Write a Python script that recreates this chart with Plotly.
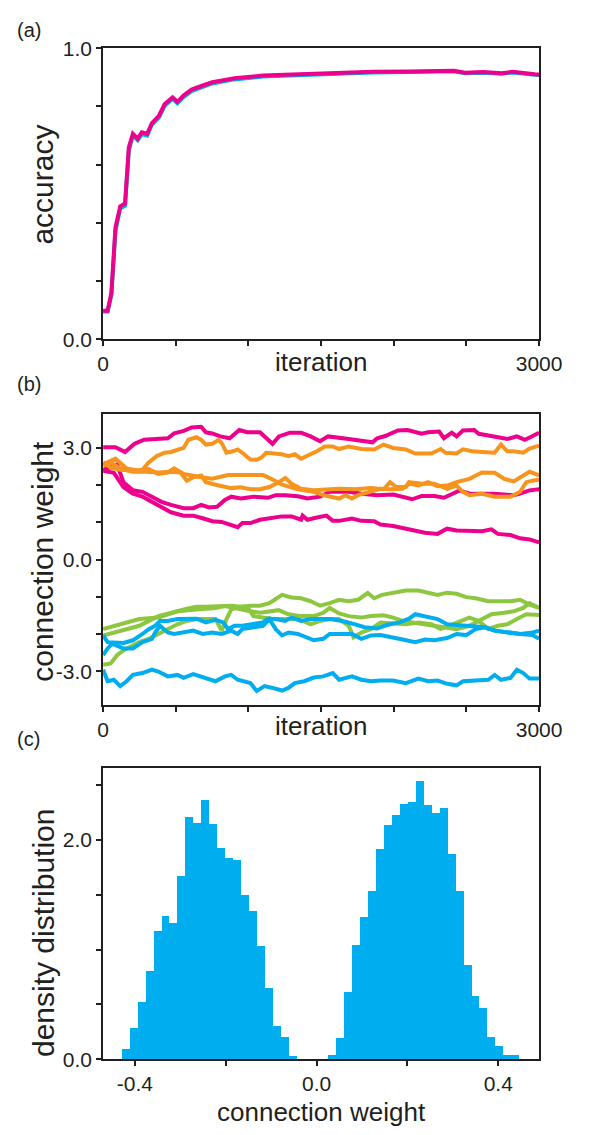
import plotly.graph_objects as go

# ---------------- data: panel (a) accuracy ----------------
acc_iter = [0, 31, 57, 85, 118, 151, 177, 205, 238, 266, 303, 336, 384, 424, 478, 511, 555, 609, 686, 751, 838, 904, 1099, 1478, 1858, 2110, 2414, 2490, 2616, 2742, 2818, 2970, 3000]
acc_magenta = [0.098, 0.098, 0.159, 0.384, 0.457, 0.466, 0.659, 0.706, 0.689, 0.711, 0.706, 0.743, 0.768, 0.808, 0.831, 0.816, 0.838, 0.858, 0.872, 0.883, 0.891, 0.897, 0.906, 0.914, 0.919, 0.920, 0.923, 0.916, 0.918, 0.914, 0.919, 0.911, 0.910]
acc_cyan = [0.095, 0.095, 0.150, 0.372, 0.450, 0.459, 0.648, 0.700, 0.684, 0.705, 0.700, 0.737, 0.762, 0.802, 0.826, 0.811, 0.833, 0.853, 0.867, 0.879, 0.887, 0.893, 0.903, 0.911, 0.917, 0.918, 0.921, 0.914, 0.916, 0.912, 0.917, 0.909, 0.908]

# ---------------- data: panel (b) connection weights ----------------
M1_it = [0, 85, 151, 216, 282, 445, 489, 555, 609, 675, 707, 751, 806, 871, 937, 991, 1079, 1133, 1166, 1210, 1286, 1362, 1428, 1493, 1548, 1690, 1854, 1886, 1941, 2028, 2094, 2192, 2236, 2312, 2345, 2399, 2432, 2476, 2553, 2585, 2673, 2782, 2847, 2902, 2956, 3000]
M1_w = [3.02, 3.02, 2.89, 3.11, 3.22, 3.26, 3.39, 3.46, 3.55, 3.57, 3.42, 3.39, 3.31, 3.26, 3.48, 3.42, 3.42, 3.22, 3.11, 3.31, 3.41, 3.41, 3.31, 3.18, 3.31, 3.24, 3.15, 3.26, 3.32, 3.47, 3.48, 3.38, 3.42, 3.44, 3.26, 3.41, 3.31, 3.47, 3.48, 3.38, 3.32, 3.24, 3.31, 3.22, 3.32, 3.41]
M2_it = [0, 96, 140, 205, 271, 336, 402, 467, 554, 620, 675, 729, 784, 838, 882, 947, 1035, 1133, 1188, 1253, 1340, 1406, 1493, 1559, 1690, 1777, 1886, 1996, 2061, 2127, 2192, 2279, 2345, 2410, 2454, 2520, 2585, 2694, 2825, 2869, 2934, 3000]
M2_w = [2.41, 2.56, 2.08, 1.86, 1.82, 1.69, 1.55, 1.47, 1.38, 1.38, 1.47, 1.40, 1.42, 1.60, 1.69, 1.64, 1.69, 1.66, 1.73, 1.73, 1.70, 1.64, 1.69, 1.82, 1.82, 1.77, 1.73, 1.75, 1.69, 1.62, 1.71, 1.71, 1.66, 1.77, 1.86, 1.77, 1.77, 1.77, 1.73, 1.77, 1.86, 1.89]
M3_it = [0, 74, 140, 205, 271, 336, 402, 467, 554, 620, 685, 751, 816, 882, 926, 958, 1013, 1079, 1144, 1231, 1297, 1362, 1373, 1406, 1471, 1537, 1580, 1624, 1712, 1777, 1865, 1908, 1996, 2061, 2127, 2214, 2301, 2367, 2432, 2520, 2607, 2672, 2716, 2803, 2869, 2934, 3000]
M3_w = [2.39, 2.33, 1.95, 1.77, 1.69, 1.55, 1.40, 1.27, 1.18, 1.18, 1.11, 1.03, 1.01, 0.94, 0.87, 0.98, 0.98, 1.07, 1.11, 1.16, 1.16, 1.07, 1.18, 1.07, 1.13, 1.18, 1.04, 1.04, 1.10, 1.04, 1.03, 0.94, 0.90, 0.85, 0.81, 0.72, 0.69, 0.83, 0.78, 0.76, 0.76, 0.81, 0.69, 0.66, 0.57, 0.54, 0.46]

O1_it = [0, 52, 118, 205, 271, 314, 369, 424, 467, 522, 554, 587, 642, 675, 707, 751, 795, 816, 849, 893, 926, 958, 1013, 1057, 1089, 1122, 1188, 1231, 1275, 1319, 1362, 1428, 1471, 1526, 1580, 1624, 1690, 1777, 1865, 1930, 1996, 2083, 2148, 2258, 2323, 2356, 2432, 2476, 2541, 2607, 2694, 2738, 2781, 2825, 2891, 2934, 3000]
O1_w = [2.61, 2.47, 2.41, 2.39, 2.41, 2.61, 2.78, 2.87, 2.89, 2.96, 3.00, 3.22, 3.29, 3.22, 3.09, 3.11, 3.22, 3.13, 2.87, 2.91, 2.96, 2.87, 2.69, 2.68, 2.74, 2.87, 2.85, 2.83, 2.78, 2.83, 2.71, 2.83, 2.91, 3.04, 3.04, 2.97, 3.04, 2.97, 2.96, 3.09, 3.00, 2.96, 2.85, 2.85, 2.97, 2.87, 2.85, 2.96, 2.91, 2.89, 2.87, 3.09, 2.91, 2.91, 2.87, 2.98, 3.06]
O2_it = [0, 85, 162, 249, 314, 380, 445, 489, 554, 620, 675, 751, 860, 991, 1100, 1166, 1231, 1340, 1450, 1515, 1624, 1668, 1712, 1755, 1843, 1908, 1974, 2061, 2105, 2170, 2236, 2301, 2367, 2432, 2520, 2607, 2694, 2760, 2825, 2869, 2934, 3000]
O2_w = [2.56, 2.71, 2.45, 2.39, 2.43, 2.30, 2.34, 2.45, 2.30, 2.24, 2.21, 2.17, 2.27, 2.27, 2.27, 2.15, 2.01, 1.89, 1.82, 1.73, 1.64, 1.73, 1.64, 1.73, 1.83, 1.90, 1.89, 1.90, 2.04, 1.99, 2.08, 1.97, 1.99, 2.08, 2.17, 2.34, 2.33, 2.17, 2.10, 2.21, 2.36, 2.26]
O3_it = [0, 52, 118, 205, 293, 380, 467, 533, 576, 620, 675, 707, 795, 882, 947, 1013, 1079, 1144, 1209, 1253, 1297, 1362, 1450, 1537, 1624, 1734, 1843, 1930, 1974, 2017, 2083, 2105, 2192, 2279, 2367, 2432, 2476, 2520, 2607, 2694, 2803, 2869, 2912, 2956, 3000]
O3_w = [2.52, 2.61, 2.45, 2.36, 2.36, 2.34, 2.36, 2.34, 2.12, 2.21, 2.26, 2.08, 1.99, 1.92, 1.94, 1.89, 1.89, 1.95, 2.08, 2.19, 2.04, 1.90, 1.86, 1.89, 1.90, 1.89, 1.92, 1.89, 2.08, 1.95, 1.95, 2.08, 2.04, 2.04, 1.90, 1.99, 1.82, 1.73, 1.77, 1.69, 1.69, 1.82, 2.08, 2.12, 2.15]

G1_it = [0, 118, 249, 380, 445, 511, 576, 642, 707, 795, 882, 947, 1013, 1079, 1144, 1188, 1231, 1297, 1362, 1428, 1493, 1559, 1624, 1690, 1755, 1821, 1865, 1919, 1996, 2083, 2170, 2236, 2301, 2367, 2432, 2498, 2563, 2651, 2738, 2803, 2869, 2934, 3000]
G1_w = [-1.87, -1.74, -1.60, -1.56, -1.47, -1.39, -1.32, -1.27, -1.27, -1.25, -1.24, -1.27, -1.24, -1.24, -1.17, -1.06, -0.95, -1.02, -1.04, -1.12, -1.24, -1.17, -1.08, -1.12, -1.08, -0.90, -1.04, -0.95, -0.90, -0.83, -0.83, -0.90, -0.95, -0.89, -0.92, -1.01, -1.04, -1.12, -1.12, -1.12, -1.08, -1.21, -1.30]
G2_it = [0, 118, 249, 380, 511, 642, 773, 838, 893, 947, 1013, 1079, 1144, 1209, 1275, 1362, 1450, 1515, 1559, 1624, 1690, 1777, 1843, 1930, 1996, 2061, 2127, 2214, 2323, 2432, 2520, 2607, 2672, 2760, 2825, 2891, 2934, 3000]
G2_w = [-2.04, -1.91, -1.78, -1.52, -1.39, -1.34, -1.30, -1.25, -1.30, -1.34, -1.39, -1.43, -1.39, -1.36, -1.47, -1.52, -1.52, -1.43, -1.30, -1.45, -1.52, -1.56, -1.52, -1.50, -1.56, -1.65, -1.69, -1.74, -1.82, -1.87, -1.78, -1.60, -1.47, -1.43, -1.39, -1.30, -1.17, -1.30]
G3_it = [0, 52, 96, 140, 183, 249, 314, 380, 445, 511, 576, 642, 773, 816, 849, 882, 947, 991, 1035, 1100, 1166, 1253, 1340, 1428, 1493, 1559, 1624, 1690, 1723, 1777, 1843, 1908, 1996, 2083, 2170, 2258, 2323, 2476, 2520, 2585, 2651, 2716, 2781, 2847, 2912, 3000]
G3_w = [-2.83, -2.79, -2.57, -2.44, -2.35, -2.22, -2.13, -2.00, -1.87, -1.74, -1.65, -1.60, -1.60, -1.91, -1.60, -1.34, -1.27, -1.27, -1.52, -1.56, -1.60, -1.60, -1.59, -1.74, -1.65, -1.60, -1.60, -1.78, -2.09, -1.96, -1.87, -1.69, -1.71, -1.74, -1.69, -1.74, -1.87, -1.65, -1.56, -1.65, -1.87, -1.78, -1.74, -1.60, -1.47, -1.49]

B1_it = [0, 31, 140, 205, 271, 314, 358, 391, 445, 511, 642, 707, 773, 827, 860, 904, 958, 1035, 1100, 1133, 1188, 1253, 1297, 1362, 1428, 1559, 1646, 1734, 1799, 1886, 1952, 2039, 2105, 2148, 2214, 2301, 2367, 2476, 2563, 2629, 2694, 2781, 2869, 2956, 3000]
B1_w = [-2.04, -2.22, -2.24, -2.17, -2.00, -1.87, -1.78, -1.65, -1.65, -1.60, -1.59, -1.69, -1.62, -1.69, -1.87, -1.78, -1.78, -1.74, -1.69, -1.59, -1.60, -1.65, -1.56, -1.65, -1.60, -1.60, -1.65, -1.74, -1.82, -1.85, -1.76, -1.69, -1.59, -1.47, -1.53, -1.60, -1.74, -1.78, -1.82, -1.82, -1.91, -1.96, -2.00, -1.96, -1.91]
B2_it = [0, 31, 63, 96, 140, 205, 271, 336, 358, 391, 445, 489, 554, 620, 685, 751, 816, 882, 926, 958, 1035, 1100, 1144, 1188, 1231, 1275, 1340, 1406, 1450, 1515, 1559, 1624, 1712, 1777, 1843, 1908, 1996, 2061, 2148, 2214, 2279, 2367, 2432, 2498, 2563, 2629, 2694, 2781, 2869, 2956, 3000]
B2_w = [-2.57, -2.39, -2.26, -2.31, -2.39, -2.39, -2.22, -2.13, -1.96, -1.78, -1.96, -2.00, -1.96, -1.91, -2.00, -1.96, -2.00, -1.91, -2.00, -1.87, -1.82, -1.78, -1.60, -1.87, -2.04, -1.96, -2.00, -2.09, -2.17, -2.13, -2.00, -2.00, -2.00, -2.13, -2.04, -2.03, -2.11, -2.15, -2.22, -2.15, -2.17, -2.11, -2.00, -2.03, -1.87, -1.82, -1.91, -1.96, -2.00, -2.03, -2.13]
B3_it = [0, 31, 74, 118, 162, 205, 271, 336, 380, 445, 511, 554, 620, 685, 773, 838, 882, 926, 969, 1013, 1057, 1111, 1166, 1231, 1275, 1319, 1384, 1450, 1515, 1580, 1624, 1712, 1777, 1843, 1908, 1996, 2083, 2170, 2236, 2301, 2367, 2432, 2476, 2563, 2651, 2694, 2738, 2803, 2847, 2891, 2934, 3000]
B3_w = [-2.96, -3.27, -3.23, -3.40, -3.27, -3.10, -3.05, -2.96, -3.01, -3.14, -3.10, -3.18, -3.08, -3.17, -3.27, -3.14, -3.10, -3.23, -3.27, -3.32, -3.53, -3.40, -3.45, -3.52, -3.45, -3.32, -3.27, -3.17, -3.14, -3.05, -3.23, -3.14, -3.23, -3.27, -3.25, -3.25, -3.32, -3.20, -3.27, -3.25, -3.34, -3.38, -3.27, -3.25, -3.23, -3.10, -3.23, -3.18, -2.96, -3.05, -3.20, -3.20]

# ---------------- data: panel (c) histogram ----------------
hist_first_edge = -0.4286
hist_bin_width = 0.0175
hist_density = [0.095, 0.28, 0.52, 0.80, 1.17, 1.30, 1.24, 1.67, 2.20, 2.15, 2.36, 2.14, 1.92, 1.83, 1.81, 1.49, 1.35, 1.03, 0.65, 0.30, 0.20, 0.03,
                0.0, 0.0, 0.0, 0.0,
                0.04, 0.19, 0.61, 1.04, 1.29, 1.53, 1.91, 2.13, 2.22, 2.32, 2.34, 2.53, 2.31, 2.24, 2.29, 1.87, 1.53, 0.86, 0.57, 0.46, 0.20, 0.12, 0.04, 0.04]

# tick labels
a_xticks = [0, 500, 1000, 1500, 2000, 2500, 3000]
a_xlabels = ["0", "", "", "", "", "", "3000"]
a_yticks = [0, 0.2, 0.4, 0.6, 0.8, 1.0]
a_ylabels = ["0.0", "", "", "", "", "1.0"]
b_yticks = [-3, -2, -1, 0, 1, 2, 3]
b_ylabels = ["-3.0", "", "", "0.0", "", "", "3.0"]
c_xticks = [-0.4, -0.2, 0.0, 0.2, 0.4]
c_xlabels = ["-0.4", "", "0.0", "", "0.4"]
c_yticks = [0, 0.5, 1.0, 1.5, 2.0, 2.5]
c_ylabels = ["0.0", "", "", "", "2.0", ""]

# ---------------- styling ----------------
W, H = 604, 1135
MAGENTA = "#EC008C"
CYAN = "#00AEEF"
ORANGE = "#F7941D"
GREEN = "#8DC63F"
INK = "#231F20"
FONT = "Liberation Sans, Arial, Helvetica, sans-serif"
TICK_SIZE = 21
TITLE_SIZE = 26
YTITLE_SIZE = 30

def px(x):
    return x / W

def py(y):
    return 1 - y / H

X0, X1 = 102, 560
panels = {"a": (37, 334), "b": (410, 707), "c": (772, 1069)}

fig = go.Figure()
LW = 4.0

# panel (a)
fig.add_trace(go.Scatter(x=acc_iter, y=acc_cyan, mode="lines", line=dict(color=CYAN, width=LW), xaxis="x", yaxis="y", showlegend=False))
fig.add_trace(go.Scatter(x=acc_iter, y=acc_magenta, mode="lines", line=dict(color=MAGENTA, width=LW), xaxis="x", yaxis="y", showlegend=False))

# panel (b)
series_b = [(M1_it, M1_w, MAGENTA), (M2_it, M2_w, MAGENTA), (M3_it, M3_w, MAGENTA),
            (O1_it, O1_w, ORANGE), (O2_it, O2_w, ORANGE), (O3_it, O3_w, ORANGE),
            (G1_it, G1_w, GREEN), (G2_it, G2_w, GREEN), (G3_it, G3_w, GREEN),
            (B1_it, B1_w, CYAN), (B2_it, B2_w, CYAN), (B3_it, B3_w, CYAN)]
for xs, ys, col in series_b:
    fig.add_trace(go.Scatter(x=xs, y=ys, mode="lines", line=dict(color=col, width=LW), xaxis="x2", yaxis="y2", showlegend=False))

# panel (c)
centers = [hist_first_edge + (i + 0.5) * hist_bin_width for i in range(len(hist_density))]
fig.add_trace(go.Bar(x=centers, y=hist_density, width=hist_bin_width, marker=dict(color=CYAN, line=dict(width=0)),
                     xaxis="x3", yaxis="y3", showlegend=False))

axis_common = dict(showline=True, linecolor=INK, linewidth=1.8, mirror=True, ticks="outside", ticklen=5,
                   tickwidth=1.6, tickcolor=INK, showgrid=False, zeroline=False,
                   tickfont=dict(family=FONT, size=TICK_SIZE, color=INK))

def ydom(key):
    t, b = panels[key]
    return [py(b), py(t)]

fig.update_layout(
    width=W, height=H, margin=dict(l=0, r=0, t=0, b=0),
    paper_bgcolor="white", plot_bgcolor="white", bargap=0,
    xaxis=dict(domain=[px(X0), px(X1)], anchor="y", range=[0, 3000], tickvals=a_xticks, ticktext=a_xlabels, **axis_common),
    yaxis=dict(domain=ydom("a"), anchor="x", range=[0, 1.0], tickvals=a_yticks, ticktext=a_ylabels, **axis_common),
    xaxis2=dict(domain=[px(X0), px(X1)], anchor="y2", range=[0, 3000], tickvals=a_xticks, ticktext=a_xlabels, **axis_common),
    yaxis2=dict(domain=ydom("b"), anchor="x2", range=[-3.9, 3.92], tickvals=b_yticks, ticktext=b_ylabels, **axis_common),
    xaxis3=dict(domain=[px(X0), px(X1)], anchor="y3", range=[-0.47, 0.49], tickvals=c_xticks, ticktext=c_xlabels, **axis_common),
    yaxis3=dict(domain=ydom("c"), anchor="x3", range=[0, 2.65], tickvals=c_yticks, ticktext=c_ylabels, **axis_common),
)

def text(x, y, s, size, angle=0, xanchor="center"):
    fig.add_annotation(x=px(x), y=py(y), xref="paper", yref="paper", text=s, showarrow=False,
                       textangle=angle, xanchor=xanchor, yanchor="middle",
                       font=dict(family=FONT, size=size, color=INK))

# panel letters
text(24, 18, "(a)", 20)
text(24, 380, "(b)", 20)
text(24, 742, "(c)", 20)
# axis titles
text(331, 357, "iteration", TITLE_SIZE)
text(331, 729, "iteration", TITLE_SIZE)
text(331, 1123, "connection weight", TITLE_SIZE)
text(38, 176, "accuracy", YTITLE_SIZE, angle=-90)
text(38, 561, "connection weight", YTITLE_SIZE, angle=-90)
text(40, 940, "density distribution", YTITLE_SIZE, angle=-90)

fig.write_html("out.html")
